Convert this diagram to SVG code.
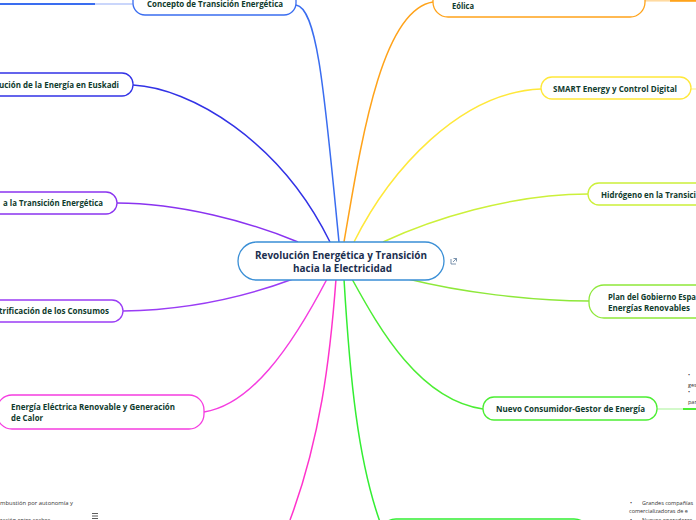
<svg xmlns="http://www.w3.org/2000/svg" width="696" height="520" viewBox="0 0 696 520">
<style>
.n{fill:#fff;stroke-width:1.3}
.t{font-family:"Open Sans","Noto Sans",sans-serif;font-weight:bold;font-size:8px;fill:#0f3b2d}
.c{fill:#1b2f4f;font-size:11px}
.s{font-family:"Open Sans","Noto Sans",sans-serif;font-size:5.5px;fill:#333}
#connectors path{fill:none;stroke-width:1.5}
</style>
<rect width="696" height="520" fill="#fff"/>
<g id="connectors">
<path d="M296,5 C318,8 325,100 339,242" stroke="#3a6df0"/>
<path d="M133,85 C190,88 280,140 330,242" stroke="#3232e6"/>
<path d="M117,203 C180,203 250,222 298,242" stroke="#8a33f0"/>
<path d="M123,311 C190,310 250,295 293,279" stroke="#9a3cf5"/>
<path d="M204,412 C250,405 290,350 327,279" stroke="#f53ce0"/>
<path d="M336,279 C330,360 320,440 290,520" stroke="#ff33cc"/>
<path d="M344,279 C350,380 358,460 380,522" stroke="#33ee33"/>
<path d="M352,279 C380,330 420,400 483,409" stroke="#4cee33"/>
<path d="M408,279 C460,292 530,301 589,301" stroke="#8ee83a"/>
<path d="M383,242 C430,220 510,194 588,194" stroke="#ccf03a"/>
<path d="M354,242 C390,170 460,92 541,89" stroke="#ffe83a"/>
<path d="M344,242 C360,150 380,10 433,2" stroke="#ffa31a"/>
<path d="M0,4 H95" stroke="#3a6df0" style="stroke-width:2"/>
<path d="M95,4 H133" stroke="#b9c9fa"/>
<path d="M657,409 H683" stroke="#c4f7b8"/>
<path d="M683,409 H696" stroke="#4cee33" style="stroke-width:2"/>
<path d="M691,89 H696" stroke="#fff3a6"/>
<path d="M645,0.8 H670" stroke="#ffd99c"/>
<path d="M670,0.8 H696" stroke="#ffa31a" style="stroke-width:2"/>
</g>
<g id="center">
<rect x="238" y="242" width="206" height="38" rx="19" class="n" stroke="#3a8fd6"/>
<text class="t c" x="255" y="259" textLength="172" lengthAdjust="spacingAndGlyphs">Revolución Energética y Transición</text>
<text class="t c" x="293" y="272" textLength="99" lengthAdjust="spacingAndGlyphs">hacia la Electricidad</text>
<path d="M451,259 v5 h5 M453.5,258.5 h3 v3 M456.5,258.5 l-3.5,3.5" fill="none" stroke="#5a7a9a" stroke-width="0.8"/>
</g>
<g id="n-concepto">
<rect x="133" y="-12" width="163" height="27" rx="12" class="n" stroke="#3a6df0"/>
<text class="t" x="147" y="7" textLength="136" lengthAdjust="spacingAndGlyphs">Concepto de Transición Energética</text>
</g>
<g id="n-euskadi">
<rect x="-20" y="73" width="153" height="23" rx="11" class="n" stroke="#3232e6"/>
<text class="t" x="-1" y="88" textLength="120" lengthAdjust="spacingAndGlyphs">ución de la Energía en Euskadi</text>
</g>
<g id="n-transicion">
<rect x="-20" y="192" width="137" height="22" rx="11" class="n" stroke="#8a33f0"/>
<text class="t" x="3" y="206" textLength="100" lengthAdjust="spacingAndGlyphs">a la Transición Energética</text>
</g>
<g id="n-consumos">
<rect x="-20" y="300" width="143" height="22" rx="11" class="n" stroke="#9a3cf5"/>
<text class="t" x="-1" y="314" textLength="110" lengthAdjust="spacingAndGlyphs">trificación de los Consumos</text>
</g>
<g id="n-renovable">
<rect x="-3" y="395" width="207" height="34" rx="15" class="n" stroke="#f53ce0"/>
<text class="t" x="11" y="410" textLength="164" lengthAdjust="spacingAndGlyphs">Energía Eléctrica Renovable y Generación</text>
<text class="t" x="11" y="421" textLength="32" lengthAdjust="spacingAndGlyphs">de Calor</text>
</g>
<g id="n-bottom-green">
<rect x="380" y="519" width="210" height="30" rx="16" class="n" stroke="#33ee33"/>
</g>
<g id="n-nuevo">
<rect x="483" y="397" width="174" height="23" rx="11" class="n" stroke="#4cee33"/>
<text class="t" x="496" y="412" textLength="149" lengthAdjust="spacingAndGlyphs">Nuevo Consumidor-Gestor de Energía</text>
</g>
<g id="n-plan">
<rect x="589" y="285" width="130" height="33" rx="15" class="n" stroke="#8ee83a"/>
<text class="t" x="608" y="300" textLength="88" lengthAdjust="spacingAndGlyphs">Plan del Gobierno Espa</text>
<text class="t" x="608" y="311" textLength="82" lengthAdjust="spacingAndGlyphs">Energías Renovables</text>
</g>
<g id="n-hidrogeno">
<rect x="588" y="183" width="130" height="22" rx="11" class="n" stroke="#ccf03a"/>
<text class="t" x="601" y="198" textLength="95" lengthAdjust="spacingAndGlyphs">Hidrógeno en la Transici</text>
</g>
<g id="n-smart">
<rect x="541" y="77" width="150" height="22" rx="11" class="n" stroke="#ffe83a"/>
<text class="t" x="553" y="92" textLength="124" lengthAdjust="spacingAndGlyphs">SMART Energy y Control Digital</text>
</g>
<g id="n-eolica">
<rect x="433" y="-20" width="212" height="37" rx="15" class="n" stroke="#ffa31a"/>
<text class="t" x="452" y="8.5" textLength="22" lengthAdjust="spacingAndGlyphs">Eólica</text>
</g>
<g id="notes">
<text class="s" x="688" y="377">•</text>
<text class="s" x="688" y="387">ges</text>
<text class="s" x="688" y="394">•</text>
<text class="s" x="688" y="404">par</text>
<text class="s" x="630" y="505">•</text>
<text class="s" x="642" y="505">Grandes compañías</text>
<text class="s" x="629" y="513">comercializadoras de e</text>
<text class="s" x="630" y="522">•</text>
<text class="s" x="642" y="522">Nuevos operadores</text>
<text class="s" x="0" y="505" textLength="73" lengthAdjust="spacingAndGlyphs">mbustión por autonomía y</text>
<text class="s" x="0" y="522">ración entre coches</text>
<path d="M92,513.5 h6 M92,516 h6 M92,518.5 h6" stroke="#333" stroke-width="0.8"/>
</g>
</svg>
